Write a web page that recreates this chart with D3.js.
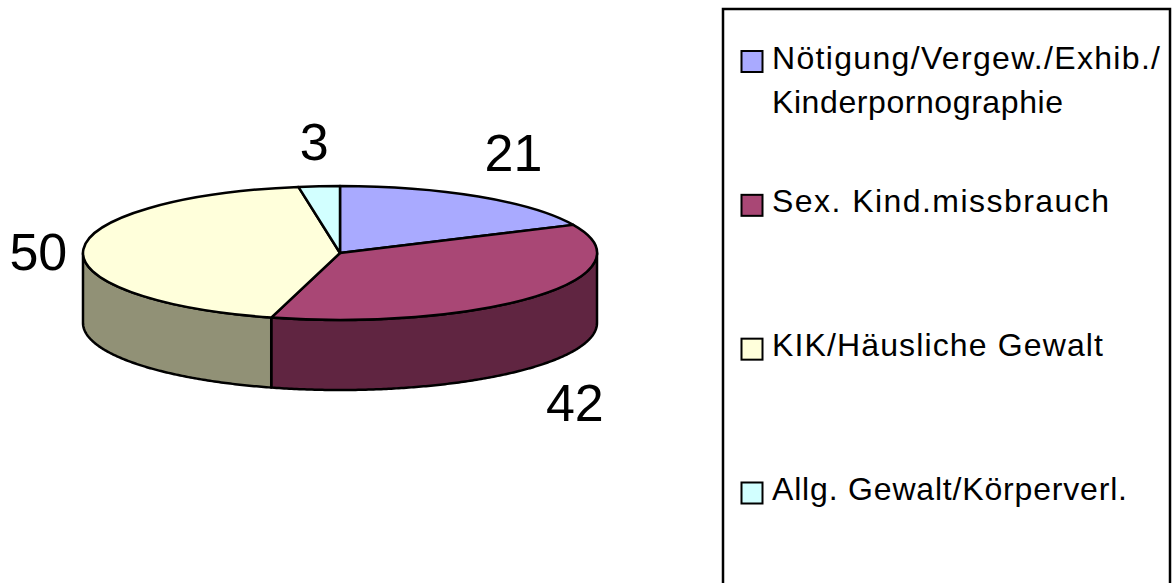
<!DOCTYPE html>
<html>
<head>
<meta charset="utf-8">
<script src="https://cdn.jsdelivr.net/npm/d3@7"></script>
<style>
    html, body { margin: 0; padding: 0; background: #fff; overflow: hidden; }
    text { font-family: "Liberation Sans", Arial, sans-serif; fill: #000; }
</style>
</head>
<body>
<svg id="chart" width="1173" height="583"></svg>
<script>
// data
var categories = [
    ["Nötigung/Vergew./Exhib./", "Kinderpornographie"],
    ["Sex. Kind.missbrauch"],
    ["KIK/Häusliche Gewalt"],
    ["Allg. Gewalt/Körperverl."]
];
var values = [21, 42, 50, 3];
var topColors = ["#a9aaff", "#a94775", "#ffffdb", "#d2ffff"];
var sideColors = ["#5f5f80", "#602541", "#919176", "#69807f"];

// pie geometry
var cx = 340, cy = 253, rx = 257, ry = 67, depth = 70;

var svg = d3.select("#chart");

var slices = d3.pie().sort(null)(values);

// x,y of a pie angle (0 = top, clockwise) on the squashed ellipse
function px(a) { return cx + rx * Math.sin(a); }
function py(a) { return cy - ry * Math.cos(a); }

// side walls, only the front half of the rim can be seen
var wall = d3.area()
    .x(function(a){ return px(a); })
    .y0(function(a){ return py(a); })
    .y1(function(a){ return py(a) + depth; });

slices.forEach(function(d, i){
    var a0 = Math.max(d.startAngle, Math.PI / 2),
        a1 = Math.min(d.endAngle, Math.PI * 1.5);
    if(a1 <= a0) return;
    svg.append("path")
       .attr("d", wall(d3.range(a0, a1, 0.01).concat([a1])))
       .attr("fill", sideColors[i])
       .attr("stroke", "#000")
       .attr("stroke-width", 2.5)
       .attr("stroke-linejoin", "round");
});

// top of the pie, circle arcs squashed with a scale
var arc = d3.arc().innerRadius(0).outerRadius(rx);

svg.append("g")
   .attr("transform", "translate(" + cx + "," + cy + ") scale(1," + (ry / rx) + ")")
   .selectAll("path")
   .data(slices)
   .enter()
   .append("path")
   .attr("d", arc)
   .attr("fill", function(d, i){ return topColors[i]; })
   .attr("stroke", "#000")
   .attr("stroke-width", 2.5)
   .attr("stroke-linejoin", "round")
   .attr("vector-effect", "non-scaling-stroke");

// value labels, moved off the slice rim by hand
var labelShift = [[35, -26], [39, 125], [-45, 21], [-5, -26]];

svg.selectAll(".valueLabel")
   .data(slices)
   .enter()
   .append("text")
   .attr("class", "valueLabel")
   .attr("text-anchor", "middle")
   .attr("font-size", 52)
   .attr("x", function(d, i){ return px((d.startAngle + d.endAngle) / 2) + labelShift[i][0]; })
   .attr("y", function(d, i){ return py((d.startAngle + d.endAngle) / 2) + labelShift[i][1]; })
   .text(function(d){ return d.value; });

// legend, the box runs off the bottom of the picture
svg.append("rect")
   .attr("x", 723)
   .attr("y", 9)
   .attr("width", 447)
   .attr("height", 600)
   .attr("fill", "#fff")
   .attr("stroke", "#000")
   .attr("stroke-width", 2.5);

var rowY = d3.scaleLinear().domain([0, categories.length - 1]).range([61.5, 493]);

// the old renderer spaced the letters out, so each line gets its measured width
var lineWidths = [[388, 291], [337], [331], [355]];

var rows = svg.selectAll(".legendRow")
   .data(categories)
   .enter()
   .append("g")
   .attr("class", "legendRow")
   .attr("transform", function(d, i){ return "translate(0," + rowY(i) + ")"; });

rows.append("rect")
    .attr("x", 741.5)
    .attr("y", -10.5)
    .attr("width", 21)
    .attr("height", 21)
    .attr("fill", function(d, i){ return topColors[i]; })
    .attr("stroke", "#000")
    .attr("stroke-width", 2);

rows.each(function(lines, i){
    var row = d3.select(this);
    lines.forEach(function(line, j){
        row.append("text")
           .attr("x", 772)
           .attr("y", 7 + j * 44)
           .attr("font-size", 32)
           .attr("textLength", lineWidths[i][j])
           .attr("lengthAdjust", "spacing")
           .text(line);
    });
});
</script>
</body>
</html>
